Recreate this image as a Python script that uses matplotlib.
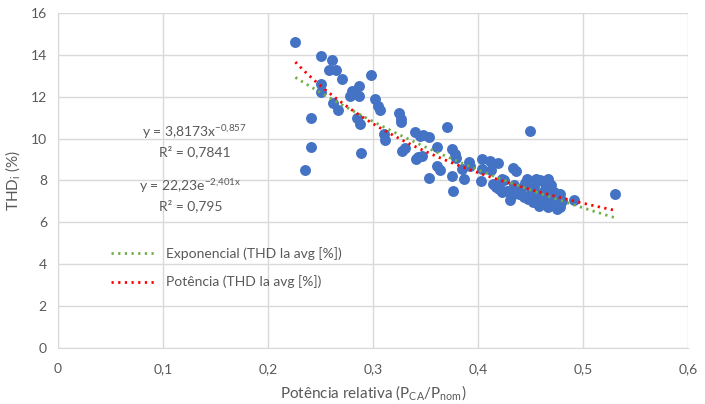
import numpy as np
import matplotlib
matplotlib.use('Agg')
import matplotlib.pyplot as plt

plt.rcParams['font.family'] = ['Lato', 'DejaVu Sans']
plt.rcParams['mathtext.default'] = 'regular'

# dados (potência relativa, THDi %)
p_rel = [0.226, 0.250, 0.261, 0.258, 0.265, 0.270, 0.298, 0.250, 0.250, 0.280,
         0.278, 0.287, 0.287, 0.262, 0.267, 0.241, 0.285, 0.288, 0.302, 0.305,
         0.307, 0.241, 0.235, 0.289, 0.310, 0.311, 0.325, 0.327, 0.327, 0.328,
         0.330, 0.340, 0.345, 0.348, 0.353, 0.341, 0.343, 0.347, 0.370, 0.361,
         0.361, 0.364, 0.353, 0.375, 0.378, 0.379, 0.375, 0.376, 0.385, 0.387,
         0.391, 0.392, 0.403, 0.404, 0.411, 0.419, 0.404, 0.412, 0.433, 0.436,
         0.449, 0.414, 0.417, 0.425, 0.423, 0.430, 0.434, 0.439, 0.447, 0.448,
         0.453, 0.455, 0.459, 0.455, 0.461, 0.467, 0.469, 0.467, 0.472, 0.478,
         0.461, 0.467, 0.475, 0.478, 0.491, 0.530,
         0.441, 0.444, 0.450, 0.457, 0.463, 0.465, 0.470, 0.472, 0.452, 0.458,
         0.464, 0.445, 0.428, 0.420, 0.432, 0.476, 0.480, 0.465, 0.423, 0.420]
thd = [14.63, 13.92, 13.75, 13.27, 13.27, 12.86, 13.03, 12.60, 12.24, 12.29,
       12.03, 12.52, 12.05, 11.68, 11.37, 11.00, 10.97, 10.71, 11.88, 11.57,
       11.37, 9.59, 8.49, 9.32, 10.22, 9.93, 11.20, 10.94, 10.78, 9.43,
       9.54, 10.30, 10.14, 10.19, 10.06, 9.03, 9.11, 9.19, 10.54, 9.62,
       8.71, 8.51, 8.11, 9.51, 9.24, 9.08, 8.21, 7.48, 8.56, 8.08,
       8.87, 8.67, 7.97, 9.03, 8.95, 8.83, 8.56, 8.48, 8.60, 8.44,
       10.38, 7.84, 7.71, 8.00, 7.44, 7.08, 7.76, 7.37, 8.08, 7.13,
       7.68, 8.08, 8.00, 7.37, 7.05, 8.08, 7.76, 7.52, 7.44, 7.37,
       6.89, 6.73, 6.65, 6.73, 7.05, 7.37,
       7.60, 7.20, 7.40, 7.20, 7.50, 7.00, 7.10, 6.90, 6.95, 6.80,
       7.85, 7.90, 7.50, 7.60, 7.30, 7.10, 7.00, 7.30, 8.08, 7.68]

# coeficientes das linhas de tendência
pot_a, pot_b = 3.8173, -0.857
exp_a, exp_b = 22.23, -2.401

x_ticks = [0, 0.1, 0.2, 0.3, 0.4, 0.5, 0.6]
x_labels = ['0', '0,1', '0,2', '0,3', '0,4', '0,5', '0,6']
y_ticks = [0, 2, 4, 6, 8, 10, 12, 14, 16]

grey = '#595959'
grid = '#d9d9d9'

fig = plt.figure(figsize=(7.05, 4.04), dpi=100)
ax = fig.add_axes([0.0823, 0.1386, 0.8937, 0.8294])

ax.scatter(p_rel, thd, s=62, color='#4472C4', zorder=3, linewidths=0)

xt = np.linspace(min(p_rel), max(p_rel), 100)
ax.plot(xt, exp_a * np.exp(exp_b * xt), color='#70AD47', lw=2,
        linestyle=(0, (0.8, 1.6)), label='Exponencial (THD Ia avg [%])', zorder=4)
ax.plot(xt, pot_a * xt ** pot_b, color='#FF0000', lw=2,
        linestyle=(0, (0.8, 1.6)), label='Potência (THD Ia avg [%])', zorder=4)

ax.set_xlim(0, 0.6)
ax.set_ylim(0, 16)
ax.set_xticks(x_ticks)
ax.set_xticklabels(x_labels)
ax.set_yticks(y_ticks)
ax.grid(True, color=grid, lw=1)
ax.set_axisbelow(True)
for s in ['top', 'right']:
    ax.spines[s].set_visible(False)
for s in ['left', 'bottom']:
    ax.spines[s].set_color(grid)
ax.tick_params(axis='x', length=0, colors=grey, labelsize=10, pad=11)
ax.tick_params(axis='y', length=0, colors=grey, labelsize=10, pad=8)

ax.set_xlabel('Potência relativa (P$_{CA}$/P$_{nom}$)', color=grey, fontsize=11, labelpad=6)
ax.set_ylabel('THD$_{i}$ (%)', color=grey, fontsize=11, labelpad=6)

ax.text(0.130, 10.33, 'y = 3,8173x$^{-0{,}857}$', color=grey, fontsize=10, ha='center', va='center')
ax.text(0.130, 9.38, 'R² = 0,7841', color=grey, fontsize=10, ha='center', va='center')
ax.text(0.126, 7.71, 'y = 22,23e$^{-2{,}401x}$', color=grey, fontsize=10, ha='center', va='center')
ax.text(0.126, 6.81, 'R² = 0,795', color=grey, fontsize=10, ha='center', va='center')

ax.legend(loc='upper left', bbox_to_anchor=(0.065, 0.34), frameon=False,
          fontsize=10, labelcolor=grey, handlelength=3.2, handletextpad=0.7,
          labelspacing=1.15)

fig.savefig('out.png', dpi=100)
